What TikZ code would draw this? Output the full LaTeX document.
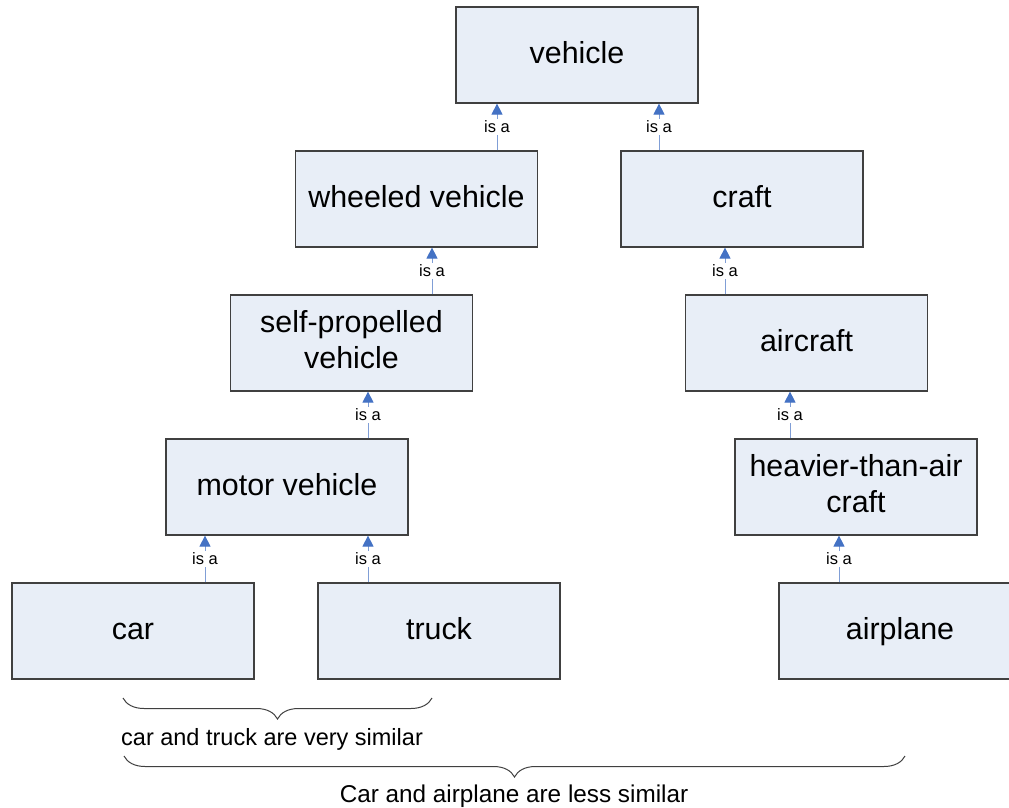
\documentclass[tikz,border=0pt]{standalone}
\usepackage{fontspec}
\setmainfont{Liberation Sans}
\usetikzlibrary{arrows.meta,decorations.pathreplacing}

\definecolor{boxfill}{RGB}{232,238,247}
\definecolor{boxline}{RGB}{64,64,64}
\definecolor{linkline}{RGB}{128,158,214}
\definecolor{linktip}{RGB}{68,114,196}

% fixed line height and depth so all box labels share one baseline
\newcommand\boxstrut{\rule[-7.6bp]{0pt}{32.6bp}}

\tikzset{
  concept/.style={draw=boxline, fill=boxfill, line width=1.2bp,
    minimum width=242bp, minimum height=96bp, inner sep=0pt,
    align=center, font=\fontsize{30.4bp}{36bp}\selectfont,
    execute at begin node=\boxstrut, execute at end node=\boxstrut},
  isa/.style={draw=linkline, line width=0.9bp,
    -{Triangle[length=11bp,width=11bp,color=linktip,fill=linktip]}},
  isalabel/.style={fill=white, inner sep=1.5bp,
    font=\fontsize{16.5bp}{18bp}\selectfont},
  bracket/.style={draw=boxline, line width=1bp,
    decorate, decoration={brace, mirror, amplitude=21bp}},
  note/.style={anchor=base, inner sep=0pt}
}

\begin{document}
\begin{tikzpicture}[x=1bp, y=-1bp]
\useasboundingbox (0,0) rectangle (1009,808);

% concept boxes
\node[concept] (vehicle)  at (577,55)    {vehicle};
\node[concept] (wheeled)  at (416.5,199) {wheeled vehicle};
\node[concept] (craft)    at (742,199)   {craft};
\node[concept] (selfprop) at (351.5,343) {self-propelled\\vehicle};
\node[concept] (aircraft) at (806.5,343) {aircraft};
\node[concept] (motor)    at (287,487)   {motor vehicle};
\node[concept] (heavier)  at (856,487)   {heavier-than-air\\craft};
\node[concept] (car)      at (133,631)   {car};
\node[concept] (truck)    at (439,631)   {truck};
\node[concept] (airplane) at (900,631)   {airplane};

% "is a" links, child to parent
\draw[isa] ([xshift=80.5bp]wheeled.north) -- ([xshift=80.5bp]wheeled.north |- vehicle.south)
  node[midway, isalabel] {is a};
\draw[isa] ([xshift=-83bp]craft.north) -- ([xshift=-83bp]craft.north |- vehicle.south)
  node[midway, isalabel] {is a};
\draw[isa] ([xshift=80.5bp]selfprop.north) -- ([xshift=80.5bp]selfprop.north |- wheeled.south)
  node[midway, isalabel] {is a};
\draw[isa] ([xshift=-81.5bp]aircraft.north) -- ([xshift=-81.5bp]aircraft.north |- craft.south)
  node[midway, isalabel] {is a};
\draw[isa] ([xshift=81bp]motor.north) -- ([xshift=81bp]motor.north |- selfprop.south)
  node[midway, isalabel] {is a};
\draw[isa] ([xshift=-66bp]heavier.north) -- ([xshift=-66bp]heavier.north |- aircraft.south)
  node[midway, isalabel] {is a};
\draw[isa] ([xshift=72bp]car.north) -- ([xshift=72bp]car.north |- motor.south)
  node[midway, isalabel] {is a};
\draw[isa] ([xshift=-71bp]truck.north) -- ([xshift=-71bp]truck.north |- motor.south)
  node[midway, isalabel] {is a};
\draw[isa] ([xshift=-61bp]airplane.north) -- ([xshift=-61bp]airplane.north |- heavier.south)
  node[midway, isalabel] {is a};

% similarity braces
\coordinate (near1) at (123,698);
\coordinate (near2) at (432,698);
\coordinate (far1)  at (124,756);
\coordinate (far2)  at (905,756);
\draw[bracket] (near1) -- (near2);
\draw[bracket] (far1) -- (far2);

\node[note, anchor=base west, font=\fontsize{23.5bp}{28bp}\selectfont] (nearnote)
  at (121,745) {car and truck are very similar};
\node[note, font=\fontsize{24.3bp}{28bp}\selectfont] (farnote)
  at (514,802.5) {Car and airplane are less similar};
\end{tikzpicture}
\end{document}
